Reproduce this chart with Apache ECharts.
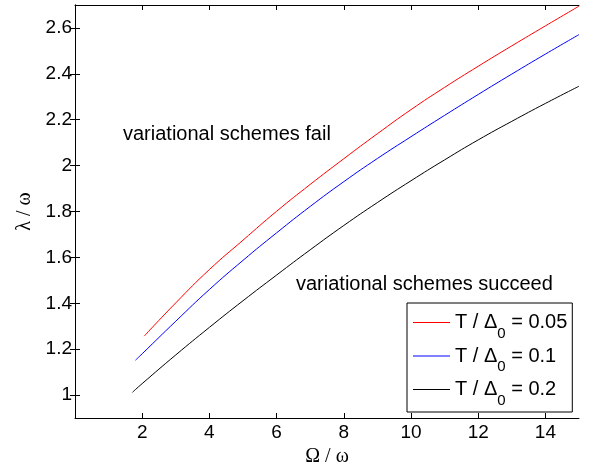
<!DOCTYPE html>
<html>
<head>
<meta charset="utf-8">
<script src="https://cdn.jsdelivr.net/npm/echarts@6/dist/echarts.min.js"></script>
<style>html,body{margin:0;padding:0;background:#fff}#c{width:594px;height:467px}</style>
</head>
<body>
<div id="c"></div>
<script>
// Data
const tRatios = ['0.05', '0.1', '0.2'];
const colors = ['#ff0000', '#0000ff', '#000000'];
const redX = [2.06, 3, 4, 5, 6, 7, 8, 9, 10, 11, 12, 13, 14, 15];
const redY = [1.257, 1.402, 1.547, 1.675, 1.801, 1.918, 2.03, 2.139, 2.244, 2.341, 2.433, 2.522, 2.609, 2.695];
const blueX = [1.8, 2, 3, 4, 5, 6, 7, 8, 9, 10, 11, 12, 13, 14, 15];
const blueY = [1.152, 1.18, 1.322, 1.46, 1.587, 1.707, 1.822, 1.93, 2.031, 2.126, 2.219, 2.31, 2.399, 2.486, 2.571];
const blackX = [1.71, 2, 3, 4, 5, 6, 7, 8, 9, 10, 11, 12, 13, 14, 15];
const blackY = [1.012, 1.05, 1.175, 1.295, 1.411, 1.523, 1.633, 1.739, 1.839, 1.934, 2.025, 2.112, 2.193, 2.271, 2.346];
const xTicks = [2, 4, 6, 8, 10, 12, 14];
const yTicks = [1, 1.2, 1.4, 1.6, 1.8, 2, 2.2, 2.4, 2.6];
const annotations = ['variational schemes fail', 'variational schemes succeed'];

const xs = [redX, blueX, blackX];
const ys = [redY, blueY, blackY];
const names = tRatios.map(r => 'T / Δ0 = ' + r);

const chart = echarts.init(document.getElementById('c'), null, {renderer: 'canvas'});
const sans = 'Liberation Sans, Arial, sans-serif';
const serif = 'Liberation Serif, Times New Roman, serif';
const axisCommon = {
  axisLine: {show: true, lineStyle: {color: '#000', width: 1}},
  splitLine: {show: false}
};
chart.setOption({
  animation: false,
  backgroundColor: '#fff',
  grid: {left: 75, right: 15, top: 5, bottom: 49, containLabel: false, outerBoundsMode: 'none'},
  xAxis: [{
    type: 'value', min: 0, max: 15, position: 'bottom',
    ...axisCommon,
    axisTick: {show: true, inside: true, length: 5, lineStyle: {color: '#000'}, customValues: xTicks},
    axisLabel: {color: '#000', fontFamily: sans, fontSize: 19, margin: 5, customValues: xTicks},
    name: 'Ω / ω', nameLocation: 'middle', nameGap: 28,
    nameTextStyle: {color: '#000', fontFamily: serif, fontSize: 20}
  }, {
    type: 'value', min: 0, max: 15, position: 'top',
    ...axisCommon,
    axisTick: {show: true, inside: true, length: 5, lineStyle: {color: '#000'}, customValues: xTicks},
    axisLabel: {show: false}
  }],
  yAxis: [{
    type: 'value', min: 0.9, max: 2.7, position: 'left',
    ...axisCommon,
    axisTick: {show: true, inside: true, length: 5, lineStyle: {color: '#000'}, customValues: yTicks},
    axisLabel: {color: '#000', fontFamily: sans, fontSize: 19, margin: 3, customValues: yTicks},
    name: 'λ / ω', nameLocation: 'middle', nameGap: 40, nameRotate: 90,
    nameTextStyle: {color: '#000', fontFamily: serif, fontSize: 20}
  }, {
    type: 'value', min: 0.9, max: 2.7, position: 'right',
    ...axisCommon,
    axisTick: {show: true, inside: true, length: 5, lineStyle: {color: '#000'}, customValues: yTicks},
    axisLabel: {show: false}
  }],
  legend: {
    orient: 'vertical',
    left: 407, top: 303,
    backgroundColor: '#fff',
    borderColor: '#000', borderWidth: 1, borderRadius: 0,
    padding: [1, 5, 4, 6],
    itemWidth: 37, itemHeight: 1, itemGap: -3.5,
    icon: 'rect',
    data: names,
    formatter: function (name) {
      const r = name.split('= ')[1];
      return '{a|T / Δ}{s|0}{a| = ' + r + '}';
    },
    textStyle: {
      color: '#000', fontFamily: sans, fontSize: 20,
      rich: {
        a: {fontFamily: sans, fontSize: 20, color: '#000', lineHeight: 28, verticalAlign: 'middle'},
        s: {fontFamily: sans, fontSize: 15, color: '#000', lineHeight: 15, padding: [22, 0, 0, 0], verticalAlign: 'middle'}
      }
    }
  },
  graphic: [
    {type: 'text', left: 123, top: 124, style: {text: annotations[0], font: '20px ' + sans, fill: '#000'}},
    {type: 'text', left: 296, top: 274, style: {text: annotations[1], font: '20px ' + sans, fill: '#000'}}
  ],
  series: names.map((n, i) => ({
    name: n,
    type: 'line',
    smooth: true,
    symbol: 'none',
    clip: true,
    color: colors[i],
    lineStyle: {color: colors[i], width: 1},
    data: xs[i].map((x, j) => [x, ys[i][j]])
  }))
});
</script>
</body>
</html>
